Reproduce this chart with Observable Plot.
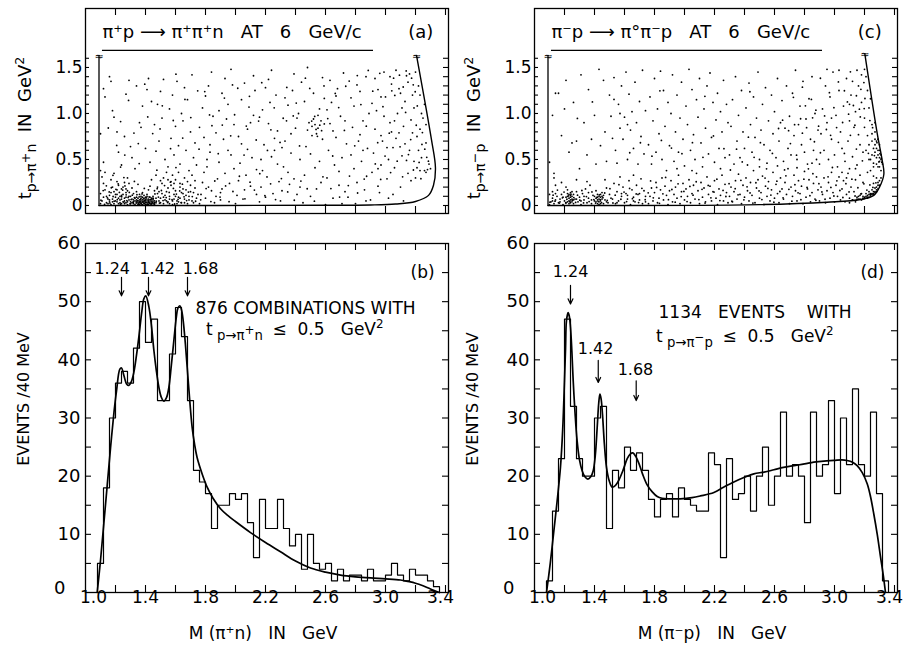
<!DOCTYPE html>
<html><head><meta charset="utf-8">
<script src="https://cdn.jsdelivr.net/npm/d3@7"></script>
<script src="https://cdn.jsdelivr.net/npm/@observablehq/plot@0.6"></script>
<style>
body{margin:0;background:#fff;}
#fig{position:relative;width:906px;height:646px;font-family:"DejaVu Sans",sans-serif;color:#000;background:#fff;overflow:hidden}
#fig svg{position:absolute;overflow:visible}
.lbl{position:absolute;white-space:nowrap;font-size:16px;line-height:16px;}
.rot{transform:translate(-50%,-50%) rotate(-90deg);}
.lbl sub{font-size:0.78em;vertical-align:-0.35em;line-height:0}
.lbl sup{font-size:0.7em;vertical-align:0.55em;line-height:0}
.lbl sub sup{font-size:0.9em;vertical-align:0.5em}
</style></head><body><div id="fig"></div>
<script>
// ---------------- data ----------------
const binStart = 1.08, binWidth = 0.04;
const countsB = [5,18,30,36,38,36,42,50,43,47,
 33,33,41,49,44,33,21,19,17,11,
 15,15,17,16,17,12,6,16,11,11,
 16,11,8,10,4,10,5,4,5,2,
 4,2,3,3,2,4,2,2,3,5,
 3,2,4,3,3,2,1];
const countsD = [2,14,23,47,32,23,20,20,30,32,
 11,21,18,25,21,24,21,16,13,16,
 17,13,18,16,15,14,14,24,22,6,
 23,16,17,20,14,20,25,15,20,31,
 20,22,20,12,31,20,22,33,17,30,
 22,35,22,20,31,17,2];
const fitB = [[1.078,0],[1.10,5.5],[1.122,11.8],[1.145,18.5],[1.167,24.9],[1.19,31],[1.207,34.7],[1.229,38.4],[1.24,38.6],[1.256,37.3],[1.275,35.8],[1.289,35.6],[1.305,36.2],[1.322,37.8],[1.34,40.8],[1.356,44.0],[1.375,48.2],[1.389,50.5],[1.402,51.0],[1.422,49.2],[1.44,45.8],[1.456,41.6],[1.472,38.2],[1.489,35.3],[1.505,33.6],[1.522,32.9],[1.54,33.5],[1.556,35.3],[1.572,39],[1.589,43.3],[1.605,47.2],[1.616,48.9],[1.629,49.3],[1.64,48.6],[1.651,46.8],[1.665,43],[1.678,38.7],[1.695,33],[1.711,28.4],[1.727,25.5],[1.744,23.2],[1.78,20.2],[1.811,18.1],[1.85,16.2],[1.9,14.4],[1.95,13.2],[2.0,12.2],[2.1,10.3],[2.2,8.6],[2.3,7.0],[2.4,5.4],[2.5,4.2],[2.6,3.5],[2.7,3.0],[2.8,2.7],[2.9,2.5],[3.0,2.35],[3.1,2.15],[3.15,1.9],[3.2,1.6],[3.25,1.15],[3.3,0.6],[3.36,0]];
const fitD = [[1.08,0],[1.105,5],[1.129,10.6],[1.15,15.5],[1.173,21.5],[1.188,28],[1.2,36.4],[1.207,42],[1.213,46.7],[1.224,48.1],[1.232,47.5],[1.24,45.6],[1.249,41.5],[1.258,36.4],[1.27,31],[1.284,26.1],[1.3,22.8],[1.318,20.9],[1.336,19.9],[1.356,19.5],[1.375,19.9],[1.391,20.9],[1.405,23.5],[1.418,28.4],[1.428,32.5],[1.436,34.1],[1.444,33.3],[1.453,30.7],[1.466,25.5],[1.48,21.5],[1.498,19.2],[1.518,18.1],[1.54,18.4],[1.562,19.3],[1.59,21],[1.618,23],[1.638,23.8],[1.656,24],[1.675,23.4],[1.696,22.2],[1.72,20.4],[1.751,18.5],[1.785,17.3],[1.818,16.5],[1.85,16.2],[1.9,16.1],[1.97,16.1],[2.05,16.3],[2.107,16.6],[2.196,17.2],[2.26,18.1],[2.329,19],[2.4,19.8],[2.462,20.4],[2.53,20.7],[2.596,21.1],[2.66,21.5],[2.729,21.8],[2.8,22.1],[2.862,22.4],[2.93,22.6],[2.996,22.7],[3.05,22.8],[3.084,22.7],[3.12,22.4],[3.151,21.8],[3.185,20.6],[3.218,18.7],[3.24,16.5],[3.262,13.5],[3.285,10],[3.307,6.1],[3.325,3],[3.34,0]];

// kinematic boundaries of the scatter plots (M, t)
const thresholdA = [[1.09,1.63],[1.09,0]];
const boundaryA = [[1.09,0],[2.6,0.002],[2.9,0.006],[3.067,0.016],[3.2,0.043],[3.287,0.11],[3.32,0.22],[3.333,0.41],[3.307,0.71],[3.207,1.63]];
const thresholdC = [[1.09,1.63],[1.09,0]];
const boundaryC = [[1.09,0],[2.5,0.01],[2.95,0.036],[3.173,0.065],[3.262,0.11],[3.30,0.2],[3.329,0.34],[3.318,0.49],[3.285,0.78],[3.202,1.65]];

// scatter (a): flat list of M, t pairs
const scatterA = [
1.10,0.02,1.11,0.05,1.12,0.09,1.10,0.13,1.13,0.17,1.12,0.24,1.14,0.03,1.15,0.07,1.11,0.31,1.13,0.36,1.16,0.11,1.17,0.01,1.18,0.04,1.16,0.06,1.19,0.15,1.20,0.09,1.18,0.20,1.21,0.26,1.17,0.28,1.22,0.02,1.23,0.06,1.21,0.12,1.24,0.18,1.22,0.22,1.25,0.04,1.26,0.08,1.24,0.11,1.27,0.14,1.25,0.20,1.28,0.01,1.27,0.03,1.29,0.06,1.30,0.10,1.28,0.16,1.31,0.19,1.29,0.24,1.32,0.02,1.33,0.05,1.31,0.07,1.34,0.09,1.32,0.13,1.35,0.03,1.36,0.01,1.34,0.15,1.36,0.06,1.37,0.02,1.38,0.04,1.37,0.08,1.39,0.11,1.38,0.14,1.40,0.01,1.41,0.03,1.39,0.05,1.42,0.07,1.40,0.09,1.43,0.02,1.41,0.12,1.44,0.04,1.42,0.17,1.45,0.06,1.43,0.21,1.46,0.01,1.47,0.03,1.45,0.10,1.48,0.13,1.46,0.16,1.49,0.05,1.50,0.08,1.48,0.20,1.51,0.24,1.52,0.02,1.50,0.27,1.53,0.11,1.54,0.15,1.52,0.30,1.55,0.04,1.56,0.07,1.55,0.19,1.57,0.22,1.58,0.01,1.57,0.26,1.59,0.12,1.60,0.16,1.58,0.33,1.61,0.05,1.62,0.09,1.60,0.28,1.63,0.20,1.64,0.03,1.63,0.24,1.65,0.13,1.66,0.07,1.67,0.17,1.68,0.02,1.69,0.10,1.70,0.22,1.71,0.05,1.72,0.14,1.74,0.08,1.73,0.27,
1.33,0.01,1.35,0.08,1.38,0.06,1.40,0.05,1.42,0.03,1.44,0.08,1.36,0.12,1.30,0.04,1.26,0.02,1.41,0.10,1.39,0.02,1.37,0.05,1.43,0.06,1.34,0.04,1.45,0.02,1.47,0.08,1.20,0.05,1.23,0.10,1.15,0.02,1.49,0.15,1.53,0.06,1.56,0.10,1.51,0.13,1.59,0.07,1.62,0.04,1.65,0.18,1.54,0.36,1.47,0.33,1.28,0.30,1.19,0.35,1.10,0.38,1.62,0.36,1.66,0.30,1.44,0.28,1.35,0.23,1.26,0.25,
1.31,0.03,1.32,0.06,1.33,0.08,1.35,0.05,1.36,0.03,1.37,0.10,1.38,0.01,1.39,0.08,1.40,0.03,1.41,0.06,1.42,0.01,1.43,0.04,1.44,0.02,1.45,0.04,1.46,0.05,1.40,0.07,1.38,0.09,1.36,0.04,1.34,0.06,1.42,0.05,1.44,0.06,1.39,0.04,1.41,0.01,1.37,0.03,1.35,0.01,1.43,0.09,1.45,0.08,1.46,0.03,1.32,0.04,1.30,0.02,
1.16,0.04,1.18,0.07,1.19,0.02,1.20,0.12,1.21,0.04,1.22,0.08,1.23,0.03,1.24,0.07,1.25,0.12,1.26,0.05,1.27,0.09,1.28,0.04,1.29,0.10,1.14,0.10,1.17,0.14,1.24,0.02,1.27,0.18,1.21,0.17,
1.50,0.03,1.52,0.09,1.54,0.05,1.56,0.02,1.58,0.05,1.60,0.10,1.61,0.02,1.63,0.08,1.64,0.14,1.66,0.03,1.67,0.11,1.69,0.06,1.70,0.15,1.72,0.03,1.73,0.19,1.75,0.12,1.55,0.28,1.59,0.24,1.68,0.26,1.71,0.33,
1.10,0.78,1.12,1.27,1.13,1.18,1.16,1.40,1.17,1.35,1.12,0.47,1.19,0.96,1.18,1.03,1.22,0.58,1.21,0.80,1.24,0.44,1.26,0.75,1.27,1.21,1.29,1.36,1.30,0.64,1.31,0.52,1.33,0.40,1.34,1.30,1.36,0.90,1.37,0.85,1.38,1.08,1.40,0.62,1.41,1.26,1.42,1.38,1.43,0.47,1.44,1.13,1.46,0.88,1.47,0.59,1.48,1.10,1.49,0.70,1.50,1.24,1.51,0.95,1.52,1.37,1.53,0.50,1.55,0.42,1.56,1.05,1.57,0.73,1.58,1.20,1.59,0.55,1.60,0.86,1.61,1.35,1.62,0.65,1.63,0.45,1.64,1.00,1.65,0.92,1.66,1.28,1.67,0.60,1.68,1.15,1.69,0.38,1.70,0.80,1.71,1.42,1.72,0.52,1.73,0.68,1.74,0.44,
1.76,0.02,1.77,0.12,1.78,0.25,1.79,0.36,1.80,0.08,1.81,0.50,1.82,0.20,1.83,0.66,1.84,0.16,1.85,0.97,1.76,0.85,1.78,1.06,1.80,1.19,1.82,1.30,1.84,1.45,1.79,0.74,1.81,0.42,1.83,0.58,1.86,0.03,1.87,0.10,1.88,0.29,1.89,0.47,1.90,0.06,1.91,0.18,1.92,0.72,1.93,0.35,1.94,0.94,1.95,1.10,1.96,0.24,1.97,0.55,1.98,1.31,1.99,0.40,1.87,0.79,1.89,1.03,1.91,1.22,1.93,1.38,1.95,0.60,1.97,1.48,1.99,0.88,1.90,0.14,2.00,0.02,2.01,0.11,2.02,0.27,2.03,0.46,2.04,0.67,2.05,0.07,2.06,0.17,2.07,0.33,2.08,0.83,2.09,1.07,2.10,0.21,2.11,0.52,2.12,0.98,2.13,1.25,2.14,0.39,2.02,0.75,2.04,1.15,2.06,1.33,2.08,0.61,2.10,0.90,2.12,1.41,2.14,0.12,2.16,0.04,2.17,0.20,2.18,0.38,2.19,0.66,2.20,0.09,2.21,0.31,2.22,0.89,2.23,1.12,2.24,0.53,2.25,0.13,2.26,0.73,2.27,1.20,2.28,0.45,2.29,0.26,2.16,0.96,2.18,1.04,2.20,1.28,2.22,1.37,2.24,1.47,2.26,0.60,2.28,0.81,2.17,0.50,
2.30,0.05,2.31,0.16,2.32,0.42,2.33,0.70,2.34,0.92,2.35,1.09,2.36,0.23,2.37,0.57,2.38,1.25,2.39,0.29,2.40,0.84,2.41,0.12,2.42,1.00,2.43,0.50,2.44,1.34,2.31,0.63,2.33,1.17,2.35,0.36,2.37,0.78,2.39,1.43,2.41,0.95,2.43,0.20,2.45,0.03,2.46,0.33,2.47,0.64,2.48,0.82,2.49,0.90,2.50,0.10,2.51,0.86,2.52,0.94,2.53,0.41,2.54,0.78,2.55,0.98,2.56,1.05,2.57,0.25,2.58,0.72,2.59,1.30,2.46,1.13,2.48,1.50,2.50,0.56,2.52,1.22,2.54,0.18,2.56,0.48,2.58,1.39,2.53,0.88,2.55,0.84,2.57,0.92,2.51,0.76,2.60,0.01,2.61,0.30,2.62,0.60,2.63,0.89,2.64,1.12,2.65,0.08,2.66,0.44,2.67,0.74,2.68,1.27,2.69,0.22,2.70,0.97,2.71,0.52,2.72,1.44,2.73,0.15,2.74,0.67,2.61,1.04,2.63,1.36,2.65,0.81,2.67,1.19,2.69,0.37,2.71,0.02,2.73,0.92,2.75,0.09,2.76,0.32,2.77,0.55,2.78,0.85,2.79,1.08,2.80,0.02,2.81,0.25,2.82,0.70,2.83,1.24,2.84,0.48,2.85,0.92,2.86,0.17,2.87,1.40,2.88,0.62,2.89,1.00,2.77,1.17,2.79,0.40,2.81,1.31,2.83,0.77,2.85,0.60,2.87,0.05,
2.90,0.06,2.91,0.36,2.92,0.57,2.93,0.83,2.94,1.03,2.95,1.26,2.96,0.14,2.97,0.44,2.98,0.70,2.99,0.97,3.00,1.18,3.01,0.29,3.02,0.50,3.03,0.90,3.04,1.32,3.05,0.63,2.91,1.11,2.93,1.38,2.95,0.21,2.97,0.76,2.99,1.45,3.01,0.63,3.03,1.40,3.05,0.12,3.06,0.41,3.07,0.73,3.08,1.00,3.09,1.27,3.10,0.20,3.11,0.54,3.12,0.86,3.13,1.13,3.14,1.41,3.15,0.35,3.16,0.60,3.17,0.93,3.18,1.20,3.19,0.48,3.07,1.47,3.09,0.79,3.11,1.06,3.13,0.67,3.15,1.34,3.17,0.27,3.19,1.06,3.06,0.92,3.14,0.49,3.18,0.79,3.20,0.30,3.21,0.41,3.22,0.60,3.23,0.83,3.24,1.00,3.23,1.20,3.26,0.38,3.27,0.68,3.27,0.88,3.29,0.45,3.30,0.40,3.22,1.30,3.24,0.52,3.26,1.10,3.28,0.39,3.21,0.75,3.23,0.38,3.25,0.95,3.27,0.36,3.12,0.05,3.02,0.08,2.95,0.40,3.10,1.22,3.20,1.45,3.16,1.43,2.97,1.18,3.04,0.80,
1.234,0.912,1.287,1.142,1.352,0.673,1.395,1.318,1.448,0.782,1.512,1.083,1.567,0.618,1.603,1.427,1.648,0.733,1.702,0.955,1.757,0.612,1.795,1.238,1.843,0.867,1.885,0.563,1.926,1.168,1.968,0.757,2.015,1.274,2.057,0.548,2.093,1.187,2.138,0.712,2.175,1.335,2.213,0.598,2.258,1.062,2.297,0.685,2.342,1.283,2.385,0.973,2.427,0.647,2.466,1.384,2.508,0.917,2.537,0.827,2.562,0.873,2.528,0.968,2.574,0.813,2.546,0.752,2.592,0.886,2.615,0.945,2.648,0.538,2.688,1.064,2.726,0.816,2.758,1.352,2.795,0.648,2.836,1.097,2.872,0.862,2.915,1.243,2.948,0.683,2.983,1.074,3.025,0.786,3.062,1.196,3.097,0.638,3.134,1.012,3.168,0.716,3.205,0.872,3.243,0.664,3.275,0.524,3.118,1.288,3.185,1.312,3.054,1.384,2.962,1.436,2.885,1.468,2.812,1.412,2.735,1.296,2.665,1.218,2.592,1.164,2.495,1.272,2.405,1.113,2.318,0.948,2.236,0.822,2.154,0.917,2.072,0.863,1.994,0.986,1.912,0.874,1.827,0.984,1.748,1.246,1.663,1.153,1.585,0.924,1.497,0.832,1.415,0.963,1.323,0.787,1.262,0.548,1.208,0.653,1.152,0.842,
3.078,0.482,3.153,0.553,3.224,0.468,3.262,0.612,3.286,0.482,3.246,0.792,3.212,1.082,3.198,1.236,3.174,1.384,3.138,1.463,3.093,1.416,3.042,1.246,2.997,0.537,2.932,0.452,2.874,0.318,2.968,0.283,3.034,0.358,3.114,0.312,3.186,0.386,3.236,0.292,
1.768,0.062,1.804,0.184,1.836,0.043,1.862,0.266,1.897,0.092,1.934,0.213,1.957,0.041,1.983,0.152,2.026,0.318,2.063,0.072,2.097,0.253,2.126,0.168,2.162,0.346,2.196,0.107,2.234,0.235,2.267,0.064,2.306,0.293,2.348,0.148,2.392,0.057,2.436,0.265,2.478,0.182,2.526,0.047,2.583,0.312,2.636,0.184,2.694,0.091,2.752,0.216,2.814,0.136,2.858,0.287,
1.103,0.057,1.118,0.162,1.127,0.012,1.139,0.214,1.146,0.083,1.158,0.147,1.163,0.026,1.172,0.193,1.184,0.098,1.191,0.047,1.203,0.176,1.212,0.063,1.218,0.236,1.226,0.142,1.233,0.014,1.241,0.095,1.248,0.168,1.256,0.037,1.263,0.213,1.271,0.116,1.276,0.054,1.284,0.087,1.292,0.142,1.297,0.018,1.304,0.064,1.312,0.112,1.318,0.036,1.326,0.085,1.338,0.027,1.343,0.118,1.347,0.052,1.353,0.016,1.358,0.094,1.364,0.042,1.368,0.067,1.373,0.017,1.377,0.126,1.383,0.036,1.386,0.073,1.392,0.022,1.396,0.058,1.404,0.037,1.407,0.082,1.413,0.014,1.418,0.046,1.424,0.093,1.427,0.027,1.433,0.064,1.437,0.012,1.446,0.033,1.452,0.074,1.458,0.018,1.463,0.126,1.472,0.047,1.478,0.183,1.486,0.092,1.493,0.026,1.506,0.163,1.517,0.054,1.527,0.217,1.538,0.086,1.547,0.032,1.558,0.142,1.566,0.253,1.577,0.063,1.586,0.186,1.594,0.016,1.606,0.124,1.617,0.067,1.628,0.158,1.637,0.032,1.646,0.232,1.657,0.094,1.674,0.054,1.686,0.146,1.712,0.097,1.734,0.046,1.392,0.186,1.326,0.262,1.256,0.303,1.183,0.328,1.476,0.384,1.603,0.412,1.234,0.418,1.358,0.456
];
// scatter (c): flat list of M, t pairs
const scatterC = [
1.10,0.01,1.11,0.04,1.12,0.08,1.10,0.12,1.13,0.02,1.14,0.06,1.12,0.15,1.15,0.10,1.16,0.03,1.17,0.07,1.18,0.12,1.19,0.01,1.20,0.05,1.21,0.09,1.22,0.13,1.23,0.02,1.24,0.06,1.25,0.10,1.22,0.17,1.24,0.14,1.23,0.08,1.25,0.04,1.26,0.12,1.21,0.20,1.24,0.11,1.26,0.02,1.27,0.07,1.28,0.15,1.29,0.04,1.30,0.09,1.31,0.01,1.32,0.13,1.33,0.06,1.34,0.18,1.35,0.03,1.36,0.08,1.37,0.22,1.38,0.02,1.39,0.11,1.40,0.05,1.41,0.08,1.42,0.12,1.43,0.04,1.44,0.09,1.45,0.14,1.42,0.02,1.43,0.07,1.44,0.05,1.41,0.16,1.45,0.10,1.46,0.02,1.47,0.06,1.48,0.19,1.49,0.03,1.50,0.12,1.52,0.07,1.53,0.24,1.54,0.02,1.55,0.15,1.56,0.05,1.58,0.10,1.59,0.20,1.60,0.03,1.61,0.13,1.62,0.07,1.63,0.27,1.64,0.01,1.65,0.17,1.66,0.09,1.67,0.04,1.68,0.22,1.69,0.12,1.70,0.06,1.71,0.29,1.72,0.02,1.73,0.16,1.74,0.10,1.18,0.25,1.14,0.22,1.28,0.28,1.35,0.26,1.47,0.28,1.57,0.31,1.66,0.33,1.13,0.30,
1.22,0.04,1.23,0.12,1.24,0.03,1.25,0.07,1.23,0.05,1.24,0.09,1.22,0.10,1.26,0.06,1.25,0.15,1.21,0.03,1.42,0.06,1.43,0.10,1.44,0.02,1.42,0.09,1.44,0.12,1.43,0.01,1.45,0.07,1.41,0.04,1.46,0.11,1.40,0.10,1.12,0.05,1.14,0.13,1.17,0.04,1.19,0.09,1.28,0.07,1.31,0.05,1.33,0.10,1.36,0.14,1.38,0.06,1.48,0.04,1.51,0.08,1.55,0.03,1.58,0.13,1.62,0.11,1.66,0.05,1.70,0.13,1.74,0.04,
1.10,0.47,1.12,0.98,1.14,1.22,1.16,1.22,1.13,0.35,1.18,0.76,1.20,1.05,1.21,1.36,1.23,0.58,1.25,0.68,1.26,1.12,1.28,0.70,1.30,0.40,1.31,1.42,1.33,0.90,1.35,0.55,1.36,1.26,1.38,0.72,1.40,0.98,1.41,0.45,1.43,1.48,1.44,0.65,1.46,1.36,1.47,0.80,1.48,0.48,1.50,1.20,1.51,0.97,1.53,1.39,1.54,0.60,1.55,0.46,1.56,1.10,1.57,0.84,1.58,1.30,1.59,0.72,1.60,0.96,1.61,1.45,1.62,0.50,1.63,1.21,1.64,0.82,1.65,1.02,1.66,0.62,1.67,1.34,1.68,0.90,1.69,0.45,1.70,1.13,1.71,0.75,1.72,1.47,1.73,0.56,1.74,1.03,1.62,0.88,1.57,1.00,1.52,0.73,
1.76,0.02,1.77,0.10,1.78,0.19,1.79,0.05,1.80,0.14,1.81,0.25,1.82,0.03,1.83,0.08,1.84,0.17,1.85,0.30,1.86,0.06,1.87,0.21,1.88,0.11,1.89,0.01,1.90,0.16,1.91,0.27,1.92,0.04,1.93,0.12,1.94,0.20,1.95,0.08,1.96,0.33,1.97,0.02,1.98,0.15,1.99,0.24,2.00,0.06,2.01,0.18,2.02,0.10,2.03,0.28,2.04,0.03,2.05,0.13,2.06,0.22,2.07,0.07,2.08,0.35,2.09,0.16,2.10,0.02,2.11,0.25,2.12,0.09,2.13,0.19,2.14,0.04,2.15,0.31,2.16,0.12,2.17,0.21,2.18,0.05,2.19,0.15,2.20,0.27,2.21,0.08,2.22,0.01,2.23,0.18,2.24,0.11,2.25,0.33,2.26,0.05,2.27,0.23,2.28,0.14,2.29,0.03,
1.76,0.66,1.77,1.18,1.78,0.45,1.79,0.92,1.80,1.38,1.81,0.58,1.82,1.05,1.83,0.78,1.84,1.46,1.85,0.50,1.86,1.25,1.87,0.86,1.88,0.38,1.89,1.12,1.90,0.65,1.91,1.00,1.92,1.42,1.93,0.48,1.94,0.80,1.95,1.20,1.96,0.58,1.97,0.95,1.98,1.34,1.99,0.72,2.00,0.43,2.01,1.08,2.02,0.88,2.03,1.48,2.04,0.60,2.05,1.26,2.06,0.77,2.07,0.50,2.08,1.15,2.09,0.96,2.10,1.38,2.11,0.68,2.12,0.42,2.13,1.05,2.14,0.84,2.15,1.30,2.16,0.56,2.17,1.44,2.18,0.74,2.19,1.12,2.20,0.47,2.21,0.93,2.22,1.22,2.23,0.62,2.24,1.02,2.25,0.80,2.26,1.36,2.27,0.52,2.28,1.10,2.29,0.90,2.05,0.38,2.24,0.40,1.95,0.40,
2.30,0.10,2.31,0.20,2.32,0.04,2.33,0.15,2.34,0.27,2.35,0.07,2.36,0.34,2.37,0.12,2.38,0.02,2.39,0.22,2.40,0.09,2.41,0.30,2.42,0.16,2.43,0.05,2.44,0.25,2.45,0.11,2.46,0.38,2.47,0.03,2.48,0.19,2.49,0.28,2.50,0.08,2.51,0.14,2.52,0.32,2.53,0.01,2.54,0.21,2.55,0.10,2.56,0.26,2.57,0.05,2.58,0.17,2.59,0.36,2.60,0.08,2.61,0.23,2.62,0.13,2.63,0.03,2.64,0.30,2.65,0.18,2.66,0.07,2.67,0.25,2.68,0.12,2.69,0.40,2.70,0.02,2.71,0.20,2.72,0.10,2.73,0.33,2.74,0.16,2.75,0.05,2.76,0.27,2.77,0.13,2.78,0.21,2.79,0.02,2.80,0.37,2.81,0.09,2.82,0.18,2.83,0.28,2.84,0.04,2.85,0.14,2.86,0.24,2.87,0.07,2.88,0.31,2.89,0.17,
2.30,0.55,2.31,0.86,2.32,1.15,2.33,0.45,2.34,1.40,2.35,0.70,2.36,0.98,2.37,0.52,2.38,1.25,2.39,0.80,2.40,0.62,2.41,1.06,2.42,0.44,2.43,1.33,2.44,0.88,2.45,0.58,2.46,1.18,2.47,0.74,2.48,0.95,2.49,1.45,2.50,0.50,2.51,0.82,2.52,1.10,2.53,0.66,2.54,1.28,2.55,0.46,2.56,0.92,2.57,0.60,2.58,1.20,2.59,0.78,2.60,1.02,2.61,0.52,2.62,1.38,2.63,0.70,2.64,0.90,2.65,1.14,2.66,0.48,2.67,0.84,2.68,1.30,2.69,0.62,2.70,0.97,2.71,0.55,2.72,1.22,2.73,0.76,2.74,1.47,2.75,0.50,2.76,0.88,2.77,1.08,2.78,0.66,2.79,1.35,2.80,0.58,2.81,0.94,2.82,0.45,2.83,1.16,2.84,0.72,2.85,1.40,2.86,0.60,2.87,1.00,2.88,0.50,2.89,0.82,2.50,0.42,2.62,0.43,2.75,0.41,2.85,0.46,
2.90,0.05,2.91,0.20,2.92,0.12,2.93,0.30,2.94,0.03,2.95,0.16,2.96,0.25,2.97,0.08,2.98,0.36,2.99,0.14,3.00,0.04,3.01,0.22,3.02,0.10,3.03,0.31,3.04,0.06,3.05,0.18,3.06,0.27,3.07,0.04,3.08,0.12,3.09,0.35,3.10,0.08,3.11,0.20,3.12,0.06,3.13,0.15,3.14,0.28,3.15,0.07,3.16,0.10,3.17,0.07,3.18,0.13,3.19,0.08,3.20,0.075,3.21,0.10,3.22,0.08,3.23,0.12,3.24,0.105,3.25,0.12,3.26,0.13,3.27,0.14,3.28,0.15,3.29,0.18,3.23,0.09,3.25,0.13,3.27,0.15,3.21,0.08,3.19,0.07,3.24,0.12,3.26,0.125,3.28,0.17,3.22,0.09,3.30,0.22,3.29,0.25,3.31,0.30,
2.90,0.45,2.91,0.78,2.92,1.05,2.93,0.60,2.94,1.30,2.95,0.90,2.96,0.50,2.97,1.18,2.98,0.72,2.99,1.45,3.00,0.55,3.01,0.98,3.02,0.42,3.03,1.25,3.04,0.80,3.05,0.62,3.06,1.08,3.07,0.48,3.08,1.38,3.09,0.70,3.10,0.92,3.11,1.20,3.12,0.53,3.13,0.85,3.14,1.02,3.15,0.44,3.16,1.30,3.17,0.66,3.18,1.12,3.19,0.58,3.20,0.95,3.21,1.40,3.22,0.76,3.23,1.06,3.24,0.50,3.25,0.88,3.26,0.62,3.27,0.90,3.28,0.70,3.29,0.55,3.30,0.60,3.31,0.50,3.32,0.45,3.31,0.55,3.30,0.66,3.29,0.72,3.28,0.52,3.30,0.48,3.27,0.58,3.315,0.47,3.29,0.42,3.26,0.46,3.28,0.62,3.25,0.70,3.27,0.80,3.24,1.16,3.22,1.25,3.20,1.48,3.18,1.42,3.15,1.47,3.12,1.35,3.08,0.30,3.05,0.36,2.98,0.95,3.10,0.40,3.17,0.33,3.22,0.36,3.26,0.32,3.19,0.25,3.14,0.40,2.95,1.48,3.03,1.47,3.10,1.10,3.20,0.85,3.23,0.66,3.16,0.77,
3.10,0.03,3.12,0.06,3.14,0.04,3.16,0.07,3.18,0.06,3.20,0.09,3.22,0.11,3.24,0.13,3.26,0.15,3.28,0.20,3.15,0.09,3.17,0.11,3.19,0.10,3.21,0.13,3.23,0.15,3.25,0.17,3.27,0.19,3.29,0.22,3.30,0.27,3.24,0.38,3.26,0.42,3.28,0.45,3.30,0.52,3.29,0.60,3.27,0.66,3.25,0.55,3.30,0.42,3.31,0.38,3.28,0.30,3.26,0.24,3.23,0.50,3.21,0.60,3.25,0.78,3.27,0.72,
1.103,0.036,1.124,0.112,1.137,0.047,1.153,0.168,1.166,0.026,1.186,0.083,1.197,0.146,1.208,0.028,1.216,0.068,1.227,0.104,1.236,0.042,1.243,0.122,1.252,0.058,1.262,0.086,1.274,0.033,1.287,0.112,1.302,0.058,1.316,0.163,1.327,0.028,1.346,0.097,1.364,0.043,1.383,0.147,1.396,0.064,1.407,0.026,1.416,0.087,1.424,0.045,1.432,0.116,1.438,0.063,1.447,0.032,1.456,0.085,1.468,0.136,1.485,0.056,1.503,0.183,1.523,0.027,1.538,0.112,1.563,0.226,1.576,0.068,1.597,0.146,1.614,0.043,1.634,0.186,1.653,0.074,1.678,0.126,1.694,0.032,1.716,0.187,1.738,0.063,1.758,0.138,1.774,0.267,1.792,0.083,1.814,0.196,1.833,0.024,1.856,0.127,1.874,0.305,1.893,0.063,1.916,0.174,1.938,0.036,1.957,0.236,1.978,0.097,1.996,0.153,2.017,0.043,2.036,0.207,2.057,0.112,2.078,0.258,2.096,0.064,2.117,0.176,2.137,0.026,2.158,0.218,2.176,0.083,2.197,0.146,2.216,0.286,2.236,0.053,2.257,0.164,2.276,0.098,2.297,0.237,2.316,0.046,2.338,0.183,2.357,0.116,2.376,0.274,2.396,0.062,2.417,0.203,2.437,0.137,2.456,0.026,2.476,0.247,2.497,0.158,2.516,0.064,2.537,0.298,2.556,0.186,2.576,0.113,2.596,0.036,2.616,0.264,2.636,0.152,2.657,0.083,2.676,0.323,2.696,0.176,2.716,0.047,2.736,0.226,2.757,0.138,2.776,0.063,2.796,0.286,2.817,0.196,2.836,0.107,2.856,0.346,2.876,0.057,2.896,0.237,2.916,0.147,2.937,0.068,2.957,0.312,2.976,0.196,2.996,0.103,3.016,0.268,3.036,0.163,3.056,0.087,3.076,0.237,3.097,0.147,3.116,0.286,3.137,0.103,3.156,0.193,3.176,0.126,3.196,0.236,3.216,0.168,3.236,0.224,3.256,0.196,3.276,0.246,
2.306,0.386,2.347,0.612,2.385,0.473,2.426,0.742,2.464,0.523,2.506,0.683,2.547,0.398,2.586,0.566,2.627,0.837,2.667,0.387,2.706,0.673,2.747,0.547,2.786,0.786,2.826,0.398,2.866,0.693,2.906,0.573,2.946,0.826,2.986,0.413,3.026,0.687,3.066,0.566,3.106,0.763,3.146,0.613,3.186,0.486,3.226,0.567,3.266,0.543,3.296,0.473,3.303,0.563,3.312,0.513,3.283,0.683,3.254,0.846,3.236,0.923,3.198,1.053,3.172,0.963,3.136,0.872,3.094,0.993,3.054,0.902,3.014,0.847,2.974,0.763,2.934,0.973,2.894,0.862,2.854,0.953,2.814,0.846,2.774,0.943,2.734,0.878,2.694,0.813,2.654,0.927,1.983,0.563,2.053,0.683,2.123,0.523,2.193,0.756,2.263,0.618,1.846,0.707,1.913,0.624,1.783,0.536,1.706,0.682,1.635,0.573,
2.726,1.176,2.786,1.286,2.846,1.153,2.906,1.383,2.966,1.226,3.026,1.343,3.066,1.247,3.106,1.453,3.146,1.193,3.176,1.263,3.196,1.336,2.996,1.063,3.086,1.126,3.126,1.087,3.166,1.047,3.203,1.163,2.876,1.036,2.806,1.083,1.836,1.246,2.136,1.186,2.436,1.236,1.530,1.153,1.286,0.946,1.386,1.126
];

// axes
const xTicks = [1.2,1.4,1.6,1.8,2.0,2.2,2.4,2.6,2.8,3.0,3.2,3.4];
const xTickLabels = [1.0,1.4,1.8,2.2,2.6,3.0,3.4];
const tTicks = [0,0.1,0.2,0.3,0.4,0.5,0.6,0.7,0.8,0.9,1.0,1.1,1.2,1.3,1.4,1.5,1.6];
const tTickLabels = [0,0.5,1.0,1.5];
const countTicks = [5,10,15,20,25,30,35,40,45,50,55];
const countTickLabels = [0,10,20,30,40,50,60];
const peakMasses = [1.24,1.42,1.68];

// ---------------- helpers ----------------
const toPairs = flat => { const out = []; for (let i = 0; i < flat.length; i += 2) out.push({M: flat[i], t: flat[i+1]}); return out; };
const toXY = arr => arr.map(([x, y]) => ({x, y}));
const stepData = counts => [{x: binStart, y: 0}, ...counts.map((c, i) => ({x: binStart + i*binWidth, y: c})), {x: binStart + counts.length*binWidth, y: 0}];

const FONT = '"DejaVu Sans", sans-serif';
const fig = document.getElementById("fig");
const xDomain = [1.0, 3.42];

function place(svg, left, top) {
  svg.style.left = left + "px"; svg.style.top = top + "px";
  fig.append(svg);
}

function frameTicks(iw, ih, yTicks, leftLen, rightLen, xLen) {
  return [
    Plot.frame({stroke: "black", strokeWidth: 1.3}),
    Plot.tickY(yTicks, {y: d => d, insetRight: iw - leftLen, strokeWidth: 1.1}),
    Plot.tickY(yTicks, {y: d => d, insetLeft: iw - rightLen, strokeWidth: 1.1}),
    Plot.tickX(xTicks, {x: d => d, insetBottom: ih - xLen, strokeWidth: 1.1}),
    Plot.tickX(xTicks, {x: d => d, insetTop: ih - xLen, strokeWidth: 1.1})
  ];
}

function scatterPanel({left, ml, mr, pts, threshold, boundary, title, letter}) {
  const width = 453, height = 225, mt = 8, mb = 12;
  const iw = width - ml - mr, ih = height - mt - mb;
  const svg = Plot.plot({
    width, height, marginTop: mt, marginBottom: mb, marginLeft: ml, marginRight: mr,
    x: {domain: xDomain, axis: null}, y: {domain: [-0.087, 2.141], axis: null},
    style: {fontFamily: FONT, fontSize: "17px", color: "black", background: "transparent"},
    marks: [
      ...frameTicks(iw, ih, tTicks, 4, 5, 7),
      Plot.text(tTickLabels, {y: d => d, text: d => d === 0 ? "0" : d.toFixed(1), frameAnchor: "left", textAnchor: "end", dx: -3, fontSize: 17}),
      Plot.dot(toPairs(pts), {x: "M", y: "t", r: 0.9, fill: "black", stroke: null}),
      Plot.line(toXY(threshold), {x: "x", y: "y", strokeWidth: 1.3}),
      Plot.line(toXY(boundary), {x: "x", y: "y", curve: "catmull-rom", strokeWidth: 1.4}),
      Plot.text([threshold[0], boundary[boundary.length - 1]], {x: d => d[0], y: d => d[1], text: () => "≈", fontSize: 11, dy: 1}),
      Plot.text([{x: 1.113, y: 1.88, s: title}], {x: "x", y: "y", text: "s", textAnchor: "start", fontSize: 18}),
      Plot.ruleY([{y: 1.685, x1: 1.113, x2: 2.92}], {y: "y", x1: "x1", x2: "x2", strokeWidth: 1.2}),
      Plot.text([{x: 3.235, y: 1.88, s: letter}], {x: "x", y: "y", text: "s", fontSize: 18})
    ]
  });
  place(svg, left, 0);
}

function histPanel({left, ml, mr, counts, fit, arrows, peakLabels, note, letter, xTitle}) {
  const width = 453, height = 421, mt = 18, mb = 54;
  const iw = width - ml - mr, ih = height - mt - mb;
  const mid = xTickLabels.slice(1, -1);
  const svg = Plot.plot({
    width, height, marginTop: mt, marginBottom: mb, marginLeft: ml, marginRight: mr,
    x: {domain: xDomain, axis: null}, y: {domain: [0, 60], axis: null},
    style: {fontFamily: FONT, fontSize: "17px", color: "black", background: "transparent"},
    marks: [
      ...frameTicks(iw, ih, countTicks, 6, 6, 7),
      Plot.text(countTickLabels.slice(1), {y: d => d, text: d => String(d), frameAnchor: "left", textAnchor: "end", dx: -5, fontSize: 18}),
      Plot.text(countTickLabels.slice(0, 1), {y: d => d, text: d => String(d), frameAnchor: "left", textAnchor: "end", dx: -20, dy: -4, fontSize: 18}),
      Plot.text(xTickLabels.slice(0, 1), {x: d => d, text: d => d.toFixed(1), frameAnchor: "bottom", dy: 10, dx: 8, fontSize: 17}),
      Plot.text(mid, {x: d => d, text: d => d.toFixed(1), frameAnchor: "bottom", dy: 10, fontSize: 17}),
      Plot.text(xTickLabels.slice(-1), {x: d => d, text: d => d.toFixed(1), frameAnchor: "bottom", dy: 10, dx: -5, fontSize: 17}),
      Plot.text([xTitle], {frameAnchor: "bottom", dy: 46, dx: -4, fontSize: 17}),
      Plot.text(["EVENTS /40 MeV"], {frameAnchor: "left", textAnchor: "middle", dx: -62, dy: -19, rotate: -90, fontSize: 16}),
      Plot.line(stepData(counts), {x: "x", y: "y", curve: "step-after", strokeWidth: 1.2}),
      Plot.line(toXY(fit), {x: "x", y: "y", curve: "catmull-rom", strokeWidth: 1.7}),
      Plot.arrow(arrows, {x1: "x", x2: "x", y1: "y1", y2: "y2", headLength: 7, headAngle: 50, strokeWidth: 1.2}),
      Plot.text(peakLabels, {x: "x", y: "y", text: d => d.m.toFixed(2), fontSize: 16}),
      Plot.text(note, {x: "x", y: "y", text: "s", textAnchor: "start", fontSize: 17}),
      Plot.text([letter], {x: "x", y: "y", text: "s", fontSize: 17})
    ]
  });
  place(svg, left, 225);
}

scatterPanel({left: 0, ml: 85, mr: 5, pts: scatterA, threshold: thresholdA, boundary: boundaryA,
  title: "π⁺p ⟶ π⁺π⁺n   AT   6   GeV/c", letter: "(a)"});
scatterPanel({left: 453, ml: 81, mr: 9, pts: scatterC, threshold: thresholdC, boundary: boundaryC,
  title: "π⁻p ⟶ π°π⁻p   AT   6   GeV/c", letter: "(c)"});

histPanel({left: 0, ml: 85, mr: 5, counts: countsB, fit: fitB,
  arrows: peakMasses.map(m => ({x: m, y1: 54.2, y2: 51.0})),
  peakLabels: [{m: 1.24, x: 1.178, y: 55.7}, {m: 1.42, x: 1.478, y: 55.7}, {m: 1.68, x: 1.767, y: 55.7}],
  note: [{x: 1.733, y: 48.8, s: "876 COMBINATIONS WITH"}],
  letter: {x: 3.247, y: 55, s: "(b)"}, xTitle: "M (π⁺n)   IN   GeV"});
histPanel({left: 453, ml: 81, mr: 9, counts: countsD, fit: fitD,
  arrows: [{x: 1.24, y1: 52.8, y2: 49.6}, {x: 1.425, y1: 39.9, y2: 36.1}, {x: 1.678, y1: 36.4, y2: 33.0}],
  peakLabels: [{m: 1.24, x: 1.24, y: 55.1}, {m: 1.42, x: 1.407, y: 41.9}, {m: 1.68, x: 1.673, y: 38.2}],
  note: [{x: 1.827, y: 48.2, s: "1134   EVENTS    WITH"}],
  letter: {x: 3.253, y: 55, s: "(d)"}, xTitle: "M (π⁻p)   IN   GeV"});

// rich-text labels (subscripts / superscripts)
const rich = [
  {cls: "lbl rot", x: 25, y: 128, fs: 18, html: "t<sub>p→π<sup>+</sup>n</sub>&nbsp; IN &nbsp;GeV<sup>2</sup>"},
  {cls: "lbl rot", x: 474, y: 128, fs: 18, html: "t<sub>p→π<sup>−</sup>p</sub>&nbsp; IN &nbsp;GeV<sup>2</sup>"},
  {cls: "lbl", x: 206, y: 321, fs: 17, html: "t<sub>&nbsp;p→π<sup>+</sup>n&nbsp;</sub>&nbsp;≤ &nbsp;0.5 &nbsp;&nbsp;GeV<sup>2</sup>"},
  {cls: "lbl", x: 656, y: 328, fs: 17, html: "t<sub>&nbsp;p→π<sup>−</sup>p&nbsp;</sub>&nbsp;≤ &nbsp;0.5 &nbsp;&nbsp;GeV<sup>2</sup>"}
];
for (const r of rich) {
  const d = document.createElement("div");
  d.className = r.cls; d.style.left = r.x + "px"; d.style.top = r.y + "px"; d.style.fontSize = r.fs + "px";
  d.innerHTML = r.html; fig.append(d);
}
</script></body></html>
